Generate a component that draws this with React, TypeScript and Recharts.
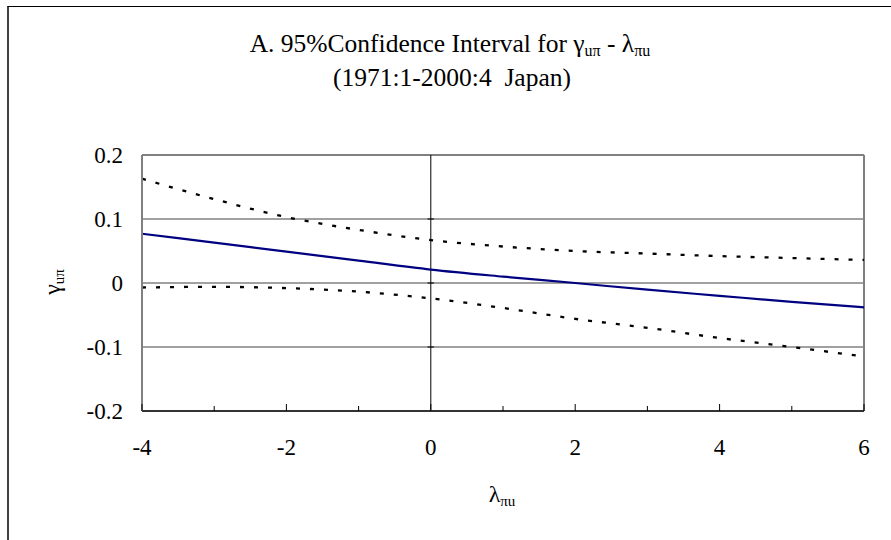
import React from 'react'
import { LineChart, Line, XAxis, YAxis, CartesianGrid, ReferenceLine } from 'recharts'

// λπu values along the horizontal axis
const lambdaValues = [-4, -3, -2, -1, 0, 1, 2, 3, 4, 5, 6]
// estimated γuπ and the 95% band
const upperBound = [0.163, 0.131, 0.103, 0.083, 0.067, 0.057, 0.05, 0.046, 0.042, 0.039, 0.036]
const pointEstimate = [0.077, 0.063, 0.049, 0.035, 0.021, 0.01, 0.0, -0.0105, -0.02, -0.0295, -0.038]
const lowerBound = [-0.007, -0.006, -0.008, -0.0135, -0.024, -0.039, -0.056, -0.07, -0.086, -0.1, -0.115]

const xTicks = [-4, -3, -2, -1, 0, 1, 2, 3, 4, 5, 6]
const xLabelTicks = [-4, -2, 0, 2, 4, 6]
const yTicks = [-0.2, -0.1, 0, 0.1, 0.2]
const yTickLabels = ['-0.2', '-0.1', '0', '0.1', '0.2']

const data = lambdaValues.map((x, i) => ({
  x,
  upper: upperBound[i],
  mid: pointEstimate[i],
  lower: lowerBound[i],
}))

const FONT = 'Liberation Serif'

function XTick(props: any) {
  const { x, y, payload } = props
  const v = payload.value
  const major = xLabelTicks.includes(v)
  return (
    <g>
      <line x1={x} x2={x} y1={y} y2={y - (major ? 7 : 5)} stroke="#000" strokeWidth={1} />
      {major && (
        <text x={x} y={y + 44} textAnchor="middle" fontFamily={FONT} fontSize={23} fill="#000">
          {String(v)}
        </text>
      )}
    </g>
  )
}

function YTick(props: any) {
  const { x, y, payload } = props
  const idx = yTicks.findIndex((t) => Math.abs(t - payload.value) < 1e-9)
  return (
    <text x={x - 19} y={y + 8} textAnchor="end" fontFamily={FONT} fontSize={23} fill="#000">
      {idx >= 0 ? yTickLabels[idx] : ''}
    </text>
  )
}

export default function App() {
  return (
    <div style={{ position: 'absolute', left: 0, top: 0, width: 891, height: 540, overflow: 'hidden', background: '#fff' }}>
      <div
        style={{
          position: 'absolute',
          left: 7,
          top: 6,
          width: 1000,
          height: 1000,
          borderLeft: '2px solid #404040',
          borderTop: '1px solid #000',
        }}
      />
      <div style={{ position: 'absolute', left: 0, top: 0 }}>
        <LineChart width={891} height={540} data={data} margin={{ top: 155, right: 27, bottom: 89, left: 82 }}>
          <CartesianGrid vertical={false} stroke="#808080" strokeWidth={1.4} />
          <XAxis
            dataKey="x"
            type="number"
            domain={[-4, 6]}
            ticks={xTicks}
            interval={0}
            height={40}
            tickSize={0}
            tickMargin={0}
            tickLine={false}
            axisLine={{ stroke: '#333', strokeWidth: 2 }}
            tick={<XTick />}
          />
          <YAxis
            type="number"
            domain={[-0.2, 0.2]}
            ticks={yTicks}
            interval={0}
            width={60}
            tickSize={0}
            tickMargin={0}
            tickLine={false}
            axisLine={{ stroke: '#808080', strokeWidth: 2 }}
            tick={<YTick />}
          />
          <ReferenceLine y={0.2} stroke="#808080" strokeWidth={2} />
          <ReferenceLine x={6} stroke="#808080" strokeWidth={2} />
          <ReferenceLine x={0} stroke="#000" strokeWidth={1} />
          {yTicks.slice(1, -1).map((t) => (
            <ReferenceLine
              key={t}
              segment={[
                { x: -0.045, y: t },
                { x: 0.045, y: t },
              ]}
              stroke="#000"
              strokeWidth={1}
            />
          ))}
          <Line
            dataKey="upper"
            type="monotone"
            stroke="#000"
            strokeWidth={2.3}
            strokeDasharray="4 10"
            dot={false}
            activeDot={false}
            isAnimationActive={false}
          />
          <Line
            dataKey="lower"
            type="monotone"
            stroke="#000"
            strokeWidth={2.3}
            strokeDasharray="4 10"
            dot={false}
            activeDot={false}
            isAnimationActive={false}
          />
          <Line
            dataKey="mid"
            type="monotone"
            stroke="#000080"
            strokeWidth={2.2}
            dot={false}
            activeDot={false}
            isAnimationActive={false}
          />
        </LineChart>
      </div>
      <svg width={891} height={540} style={{ position: 'absolute', left: 0, top: 0, pointerEvents: 'none' }}>
        <text x={450} y={52} textAnchor="middle" fontFamily={FONT} fontSize={25.5} fill="#000">
          A. 95%Confidence Interval for γ
          <tspan fontSize={16} dy={4}>uπ</tspan>
          <tspan dy={-4}> - λ</tspan>
          <tspan fontSize={16} dy={4}>πu</tspan>
        </text>
        <text x={452} y={86} textAnchor="middle" fontFamily={FONT} fontSize={25.5} fill="#000" style={{ whiteSpace: 'pre' }}>
          {'(1971:1-2000:4  Japan)'}
        </text>
        <text transform="translate(60,282) rotate(-90)" textAnchor="middle" fontFamily={FONT} fontSize={24} fill="#000">
          γ<tspan fontSize={15} dy={4}>uπ</tspan>
        </text>
        <text x={502} y={502} textAnchor="middle" fontFamily={FONT} fontSize={24} fill="#000">
          λ<tspan fontSize={15} dy={4}>πu</tspan>
        </text>
      </svg>
    </div>
  )
}
